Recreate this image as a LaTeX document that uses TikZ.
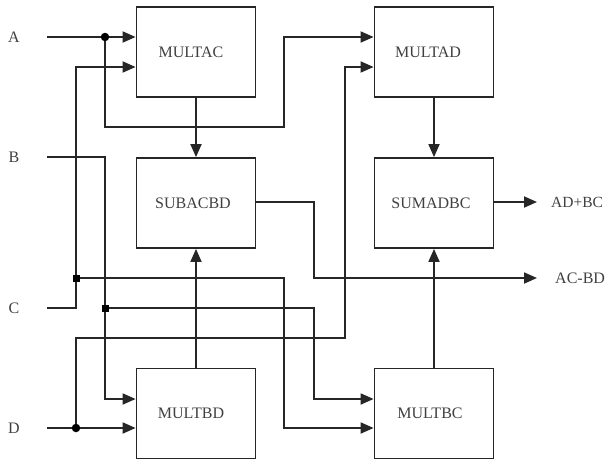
\documentclass[tikz,border=0pt]{standalone}
\usepackage{fontspec}
\setmainfont{Liberation Serif}
\usetikzlibrary{arrows.meta}

\tikzset{
  wire/.style={line width=1.8pt, draw=black!85},
  feed/.style={wire, -{Triangle[length=13pt,width=11pt]}},
  blk/.style={draw=black!85, line width=1.8pt, minimum width=119pt, minimum height=90pt, inner sep=0pt},
  txt/.style={font=\fontsize{16}{19}\selectfont, text=black!75, inner sep=0pt},
  dotc/.style={circle, fill=black, inner sep=0pt, minimum size=8.5pt},
  dots/.style={rectangle, fill=black, inner sep=0pt, minimum size=7pt},
}

\begin{document}
\begin{tikzpicture}[x=1pt,y=-1pt]
\useasboundingbox (0,0) rectangle (605,461);

% functional blocks
\node[blk] (mac) at (196,52)  {};
\node[blk] (mad) at (434,52)  {};
\node[blk] (sub) at (196,203) {};
\node[blk] (sum) at (434,203) {};
\node[blk] (mbd) at (196,413.5) {};
\node[blk] (mbc) at (434,413.5) {};

\node[txt] at ([xshift=-5pt]mac.center) {MULTAC};
\node[txt] at ([xshift=-6pt]mad.center) {MULTAD};
\node[txt] at ([xshift=-3pt]sub.center) {SUBACBD};
\node[txt] at ([xshift=-3pt]sum.center) {SUMADBC};
\node[txt] at ([xshift=-5pt]mbd.center) {MULTBD};
\node[txt] at ([xshift=-4pt]mbc.center) {MULTBC};

% inputs and outputs
\node[txt] (A) at (14,37)  {A};
\node[txt] (B) at (14,157) {B};
\node[txt] (C) at (14,308) {C};
\node[txt] (D) at (14,428) {D};
\node[txt, anchor=west, font=\fontsize{15.5}{18}\selectfont] (sumout) at (551,202) {AD+BC};
\node[txt, anchor=west] (subout) at (555,278) {AC-BD};

% line start points
\coordinate (a0) at (47,37);
\coordinate (b0) at (47,157);
\coordinate (c0) at (47,308);
\coordinate (d0) at (47,428);

% junctions
\coordinate (jA) at (105,37);
\coordinate (jB) at (105,308);
\coordinate (jC) at (76,278);
\coordinate (jD) at (76,428);

% A: to MULTAC and, looped round, to MULTAD
\draw[feed] (a0) -- (mac.west |- a0);
\draw[feed] (jA) -- (105,127) -- (284,127) -- (284,37) -- (mad.west |- a0);

% C: to MULTAC and MULTBC
\draw[feed] (c0) -- (76,308) -- (76,67) -- (mac.west |- 0,67);
\draw[feed] (jC) -- (284,278) -- (284,428) -- (mbc.west |- 0,428);

% B: to MULTBD and MULTBC
\draw[feed] (b0) -- (105,157) -- (105,399) -- (mbd.west |- 0,399);
\draw[feed] (jB) -- (314,308) -- (314,399) -- (mbc.west |- 0,399);

% D: to MULTBD and MULTAD
\draw[feed] (d0) -- (mbd.west |- d0);
\draw[feed] (jD) -- (76,338) -- (345,338) -- (345,67) -- (mad.west |- 0,67);

% products into the adder and subtractor
\draw[feed] (mac.south) -- (sub.north);
\draw[feed] (mad.south) -- (sum.north);
\draw[feed] (mbd.north) -- (sub.south);
\draw[feed] (mbc.north) -- (sum.south);

% results
\draw[feed] (sum.east |- 0,202) -- (537,202);
\draw[feed] (sub.east |- 0,202) -- (314,202) -- (314,278) -- (537,278);

% junction marks
\node[dotc] at (jA) {};
\node[dotc] at (jD) {};
\node[dots] at (jB) {};
\node[dots] at (jC) {};
\end{tikzpicture}
\end{document}
